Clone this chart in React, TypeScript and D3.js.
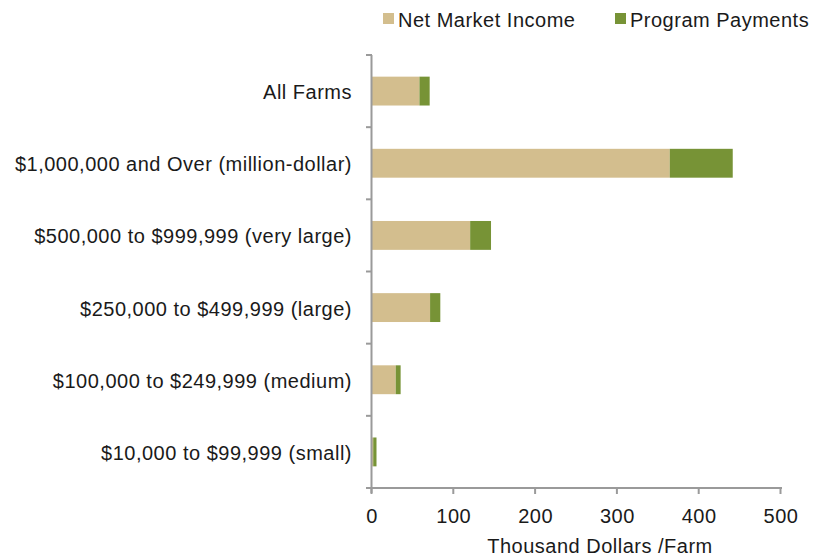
import React from "react";
import * as d3 from "d3";

const categories = [
  "All Farms",
  "$1,000,000 and Over (million-dollar)",
  "$500,000 to $999,999 (very large)",
  "$250,000 to $499,999 (large)",
  "$100,000 to $249,999 (medium)",
  "$10,000 to $99,999 (small)",
];
const netMarketIncome = [58, 364, 120, 71, 29, 1.5];
const programPayments = [12.5, 77, 25.5, 12.5, 6, 4];
const xTicks = [0, 100, 200, 300, 400, 500];
const seriesNames = ["Net Market Income", "Program Payments"];
const colors = ["#D3BE8E", "#779336"];

export default function App() {
  const W = 826, H = 557;
  const left = 372, right = 781, top = 55, bottom = 488;
  const x = d3.scaleLinear().domain([0, 500]).range([left, right]);
  const y = d3.scaleBand<string>().domain(categories).range([top, bottom]).paddingInner(0.6).paddingOuter(0.3);
  const yb = d3.scaleBand<string>().domain(categories).range([top, bottom]);
  const font = "'Liberation Sans', Arial, sans-serif";
  const axisColor = "#9a9a9a";
  const txt = { fontSize: 20, letterSpacing: 0.5, fill: "#1a1a1a" } as const;
  const boundaries = categories.map((c) => yb(c) as number).concat([bottom]);
  return (
    <svg width={W} height={H} style={{ position: "absolute", left: 0, top: 0 }} fontFamily={font}>
      {categories.map((c, i) => {
        const yy = y(c) as number;
        const h = y.bandwidth();
        const n = netMarketIncome[i];
        const p = programPayments[i];
        return (
          <g key={c}>
            <rect x={x(0)} y={yy} width={x(n) - x(0)} height={h} fill={colors[0]} />
            <rect x={x(n)} y={yy} width={x(n + p) - x(n)} height={h} fill={colors[1]} />
            <text x={352} y={(yb(c) as number) + yb.bandwidth() / 2 + 1} textAnchor="end" dominantBaseline="central" {...txt}>{c}</text>
          </g>
        );
      })}
      {/* y axis */}
      <line x1={left - 0.5} x2={left - 0.5} y1={top} y2={bottom + 5} stroke={axisColor} strokeWidth={2} />
      {boundaries.map((b, i) => (
        <line key={"yt" + i} x1={left - 6} x2={left} y1={b} y2={b} stroke={axisColor} strokeWidth={2} />
      ))}
      {/* x axis */}
      <line x1={left - 6} x2={right + 1} y1={bottom} y2={bottom} stroke={axisColor} strokeWidth={2} />
      {xTicks.map((t) => (
        <g key={"xt" + t}>
          <line x1={x(t) - 0.5} x2={x(t) - 0.5} y1={bottom} y2={bottom + 6} stroke={axisColor} strokeWidth={2} />
          <text x={x(t)} y={516} textAnchor="middle" dominantBaseline="central" {...txt}>{t}</text>
        </g>
      ))}
      <text x={600} y={546} textAnchor="middle" dominantBaseline="central" {...txt}>Thousand Dollars /Farm</text>
      {/* legend */}
      <rect x={383} y={13} width={11} height={11} fill={colors[0]} />
      <text x={398} y={20} dominantBaseline="central" {...txt}>{seriesNames[0]}</text>
      <rect x={615} y={13} width={11} height={11} fill={colors[1]} />
      <text x={630} y={20} dominantBaseline="central" {...txt}>{seriesNames[1]}</text>
    </svg>
  );
}
